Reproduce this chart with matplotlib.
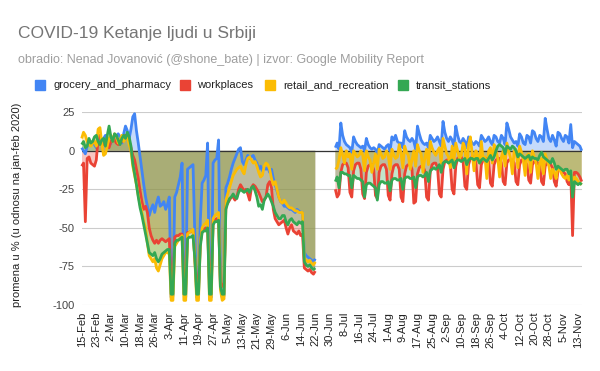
import numpy as np
import pandas as pd
import matplotlib
matplotlib.use('Agg')
import matplotlib.pyplot as plt
from matplotlib.patches import Rectangle

plt.rcParams['font.family'] = ['Liberation Sans', 'DejaVu Sans']

title = 'COVID-19 Ketanje ljudi u Srbiji'
subtitle = 'obradio: Nenad Jovanović (@shone_bate) | izvor: Google Mobility Report'
y_label = 'promena u % (u odnosu na jan-feb 2020)'
series_names = ['grocery_and_pharmacy', 'workplaces', 'retail_and_recreation', 'transit_stations']
colors = ['#4285F4', '#EA4335', '#FBBC04', '#34A853']

seg1_dates = pd.date_range('2020-02-15', '2020-06-22')
seg2_dates = pd.date_range('2020-07-03', '2020-11-15')
all_dates = pd.date_range('2020-02-15', '2020-11-15')

x_tick_labels = ['15-Feb', '23-Feb', '2-Mar', '10-Mar', '18-Mar', '26-Mar', '3-Apr', '11-Apr',
                 '19-Apr', '27-Apr', '5-May', '13-May', '21-May', '29-May', '6-Jun', '14-Jun',
                 '22-Jun', '30-Jun', '8-Jul', '16-Jul', '24-Jul', '1-Aug', '9-Aug', '17-Aug',
                 '25-Aug', '2-Sep', '10-Sep', '18-Sep', '26-Sep', '4-Oct', '12-Oct', '20-Oct',
                 '28-Oct', '5-Nov', '13-Nov']
y_ticks = [25, 0, -25, -50, -75, -100]
y_tick_labels = ['25', '0', '-25', '-50', '-75', '-100']

# ---------- segment 1: 15 Feb - 22 Jun ----------
grocery_1 = [2, 0, -2, 3, 5, 4, 6,
             4, 2, 5, 7, 6, 8, 10,
             6, 3, 5, 8, 7, 9, 11,
             9, 5, 11, 16, 13, 8, 14,
             22, 24, 13, 5, -4, -13, -22,
             -30, -36, -42, -38, -35, -40, -34,
             -30, -36, -35, -33, -38, -35, -30,
             -95, -94, -30, -27, -22, -17, -8,
             -93, -95, -12, -11, -10, -9, -55,
             -95, -95, -45, -21, -19, -16, 5,
             -94, -95, -8, -6, -5, 7, -88,
             -95, -94, -24, -21, -17, -12, -8,
             -5, -2, 1, 2, -7, -9, -6,
             -3, -5, -4, -3, -6, -8, -12,
             -10, -13, -11, -12, -11, -14, -12,
             -18, -22, -26, -30, -33, -34, -36,
             -36, -37, -38, -38, -39, -40, -38,
             -39, -40, -40, -66, -68, -69, -70,
             -71, -72, -70]
workplaces_1 = [-10, -8, -46, -5, -4, -8, -9,
                -10, -6, 8, 10, 6, 4, 5,
                3, 2, 6, 8, 7, 5, 4,
                5, 6, 9, 10, 8, 6, 2,
                -3, -6, -12, -18, -26, -33, -38,
                -36, -40, -50, -55, -58, -60, -58,
                -60, -58, -57, -58, -59, -58, -57,
                -85, -86, -56, -55, -55, -54, -54,
                -86, -87, -53, -53, -52, -52, -70,
                -88, -88, -60, -52, -51, -50, -50,
                -85, -86, -46, -45, -44, -45, -85,
                -88, -86, -36, -34, -32, -30, -30,
                -32, -30, -25, -22, -24, -26, -25,
                -28, -32, -24, -22, -23, -25, -27,
                -30, -33, -32, -30, -22, -20, -24,
                -38, -44, -46, -48, -47, -46, -45,
                -50, -54, -50, -48, -52, -53, -54,
                -52, -55, -54, -76, -77, -78, -77,
                -79, -80, -78]
retail_1 = [8, 12, 10, 6, 4, 3, 5,
            6, 3, 14, 15, 5, -3, -2,
            3, 8, 10, 6, 11, 9, 5,
            7, 10, 6, 8, 9, 4, 0,
            -10, -16, -22, -29, -35, -40, -46,
            -50, -60, -68, -70, -72, -70, -76,
            -78, -74, -70, -68, -66, -66, -67,
            -97, -97, -62, -60, -58, -57, -55,
            -97, -97, -54, -53, -52, -51, -70,
            -97, -97, -60, -50, -48, -47, -45,
            -97, -97, -44, -42, -41, -40, -90,
            -97, -96, -32, -28, -24, -20, -16,
            -14, -12, -11, -10, -13, -15, -9,
            -5, -4, -6, -8, -7, -10, -14,
            -17, -16, -10, -8, -9, -12, -18,
            -22, -20, -25, -30, -33, -34, -32,
            -34, -36, -37, -37, -38, -39, -39,
            -40, -40, -40, -70, -71, -72, -71,
            -73, -74, -72]
transit_1 = [4, 6, 2, 3, 8, 5, 6,
             9, 10, 6, 4, 7, 8, 3,
             10, 16, 9, 6, 11, 10, 7,
             4, 8, 10, 8, 12, 9, 3,
             -8, -15, -22, -30, -37, -42, -48,
             -54, -60, -66, -67, -68, -66, -70,
             -72, -70, -67, -66, -65, -64, -64,
             -93, -93, -60, -58, -58, -57, -56,
             -93, -93, -57, -56, -56, -55, -70,
             -93, -93, -62, -53, -52, -52, -50,
             -93, -93, -48, -46, -46, -45, -88,
             -93, -93, -38, -34, -31, -30, -28,
             -30, -31, -27, -25, -26, -27, -26,
             -25, -27, -24, -23, -26, -30, -36,
             -35, -38, -32, -30, -28, -30, -33,
             -36, -40, -42, -44, -44, -42, -42,
             -46, -48, -45, -44, -46, -47, -48,
             -46, -47, -46, -72, -74, -75, -74,
             -76, -77, -76]

# ---------- segment 2: 3 Jul - 15 Nov ----------
grocery_2 = [2,
             5, 1, 18, 10, 6, 4, 3,
             2, -1, 9, 6, 4, 3, 2,
             3, 0, 8, 4, 2, 1, 2,
             1, -2, 4, 3, 2, 1, 3,
             4, 0, 9, 7, 10, 6, 5,
             5, 2, 13, 9, 7, 6, 8,
             6, 1, 16, 11, 7, 5, 4,
             5, 2, 10, 8, 6, 7, 9,
             6, 3, 19, 12, 8, 6, 9,
             7, 3, 16, 10, 6, 5, 8,
             6, 2, 9, 7, 5, 4, 6,
             5, 3, 10, 8, 6, 7, 9,
             6, 4, 10, 9, 6, 5, 10,
             8, 4, 18, 14, 9, 7, 5,
             6, 3, 11, 9, 5, 4, 10,
             9, 5, 13, 12, 8, 6, 10,
             9, 6, 21, 14, 8, 6, 10,
             7, 3, 12, 11, 8, 6, 10,
             9, 5, 17, 2, 6, 5, 4,
             3, 0]
workplaces_2 = [-25,
                -30, -28, -14, -9, -8, -8, -11,
                -27, -30, -13, -9, -8, -8, -12,
                -28, -31, -14, -10, -9, -9, -12,
                -29, -31, -14, -10, -9, -9, -12,
                -29, -32, -15, -10, -9, -9, -12,
                -30, -33, -15, -10, -9, -9, -12,
                -34, -33, -15, -11, -10, -10, -13,
                -30, -32, -14, -9, -8, -8, -11,
                -28, -30, -12, -7, -6, -6, -9,
                -25, -28, -10, -5, -4, -4, -7,
                -23, -25, -9, -5, -4, -4, -7,
                -22, -24, -9, -6, -5, -5, -7,
                -21, -23, -9, -6, -5, -5, -8,
                -20, -22, -8, -6, -6, -6, -8,
                -20, -22, -9, -6, -6, -7, -9,
                -19, -21, -9, -7, -7, -8, -10,
                -20, -22, -10, -8, -8, -9, -11,
                -20, -23, -13, -12, -13, -14, -15,
                -20, -22, -15, -55, -14, -14, -15,
                -17, -20]
retail_2 = [-12,
            -11, -6, 2, -3, -8, 0, -4,
            -2, -12, 0, -2, -4, -3, 0,
            -3, -13, 0, -4, -6, -14, -8,
            -2, -12, 1, -2, -5, -4, 0,
            -3, -12, 1, -3, -5, -4, 4,
            -2, -11, 3, -1, -3, -12, -6,
            0, -10, 4, 0, -2, -14, -5,
            1, -9, 6, 2, -1, -3, 0,
            2, -8, 8, 3, -2, -4, -11,
            3, -6, 5, 0, -5, -3, 5,
            2, -15, 4, 9, -2, -13, 0,
            -3, -8, 6, -6, -4, -18, 0,
            2, -8, 4, 0, -5, -17, -4,
            0, -10, 5, 0, -5, -15, 0,
            1, -11, 3, -1, -6, -16, -3,
            -2, -14, 0, -4, -8, -18, -8,
            -5, -15, -2, -6, -10, -18, -12,
            -14, -18, -10, -12, -15, -17, -18,
            -16, -19, -15, -25, -17, -18, -20,
            -21, -22]
transit_2 = [-20,
             -17, -24, -14, -14, -15, -15, -16,
             -16, -24, -16, -17, -18, -18, -19,
             -20, -30, -22, -21, -21, -22, -23,
             -24, -32, -22, -20, -20, -21, -21,
             -20, -26, -19, -18, -18, -19, -19,
             -18, -25, -18, -17, -17, -18, -18,
             -17, -24, -17, -16, -16, -17, -16,
             -14, -20, -13, -12, -11, -12, -11,
             -9, -14, -8, -7, -7, -8, -7,
             -6, -11, -7, -6, -6, -7, -6,
             -5, -9, -6, -5, -5, -6, -5,
             -5, -8, -6, -5, -6, -7, -5,
             -3, -6, -4, 0, 3, 4, 3,
             2, -2, 3, 2, 1, 3, 2,
             0, -4, -2, -3, -4, -5, -4,
             -3, -6, -4, -5, -5, -6, -3,
             -1, -4, -5, -6, -7, -8, -5,
             -8, -12, -10, -11, -12, -13, -12,
             -12, -15, -13, -30, -20, -21, -22,
             -21, -22]

seg1_values = [grocery_1, workplaces_1, retail_1, transit_1]
seg2_values = [grocery_2, workplaces_2, retail_2, transit_2]

full = []
for s1, s2 in zip(seg1_values, seg2_values):
    s = pd.Series(np.nan, index=all_dates)
    s[seg1_dates] = s1
    s[seg2_dates] = s2
    full.append(s.values)
x = np.asarray((all_dates - all_dates[0]).days, dtype=float)

W, H = 600, 371
fig = plt.figure(figsize=(6, 3.71), dpi=100)
fig.patch.set_facecolor('white')

ax = fig.add_axes([81.7 / W, 1 - 305 / H, 500 / W, (305 - 112.2) / H])
ax.set_xlim(0, 274)
ax.set_ylim(-100, 25)
for sp in ax.spines.values():
    sp.set_visible(False)

ax.set_yticks(y_ticks)
ax.set_yticklabels(y_tick_labels)
ax.yaxis.grid(True, color='#cccccc', lw=0.8, zorder=0)
ax.set_axisbelow(True)
ax.set_xticks(np.arange(0, 273, 8))
ax.set_xticklabels(x_tick_labels, rotation=90, ha='center', va='top')
ax.tick_params(axis='both', length=0, labelsize=8)
ax.tick_params(axis='x', pad=5, labelcolor='#222222')
ax.tick_params(axis='y', pad=5, labelcolor='#444444')

for y, c in zip(full, colors):
    ax.fill_between(x, y, 0, color=c, alpha=0.3, lw=0, zorder=1)
ax.axhline(0, color='#333333', lw=0.9, zorder=2)
for y, c in zip(full, colors):
    ax.plot(x, y, color=c, lw=2.0, zorder=3, solid_joinstyle='round',
            solid_capstyle='butt', clip_on=False)

fig.text(18 / W, 1 - 38 / H, title, fontsize=12.5, color='#757575', va='baseline', ha='left')
fig.text(18 / W, 1 - 63 / H, subtitle, fontsize=9, color='#9e9e9e', va='baseline', ha='left')

leg_sq_x = [35, 180, 265, 398]
leg_txt_x = [53, 197, 283, 416]
for sx, tx, name, c in zip(leg_sq_x, leg_txt_x, series_names, colors):
    fig.patches.append(Rectangle((sx / W, 1 - 90 / H), 10 / W, 10 / H, color=c,
                                 transform=fig.transFigure, figure=fig))
    fig.text(tx / W, 1 - 85 / H, name, fontsize=8, color='#222222', va='center', ha='left')

fig.text(17 / W, 1 - 205 / H, y_label, fontsize=8, color='#222222', rotation=90,
         va='center', ha='center')

fig.savefig('out.png', dpi=100, facecolor='white')
